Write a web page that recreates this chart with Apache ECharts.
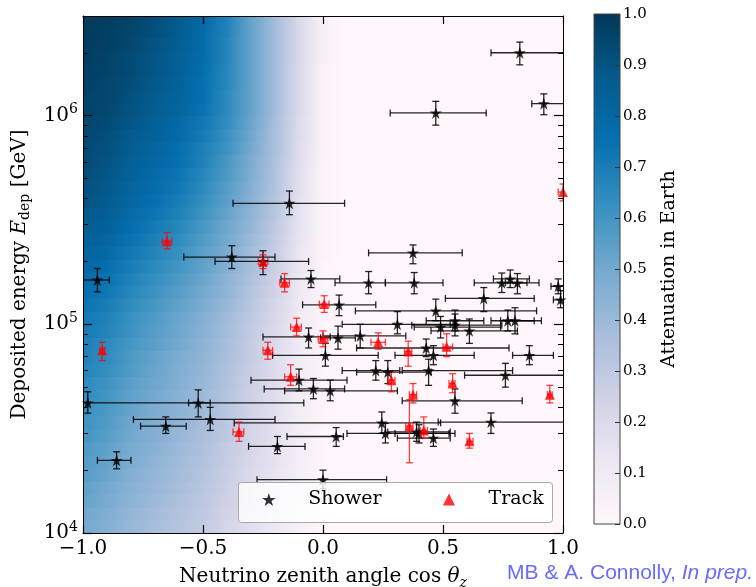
<!DOCTYPE html>
<html><head><meta charset="utf-8">
<script src="https://cdn.jsdelivr.net/npm/echarts@6/dist/echarts.min.js"></script>
<style>html,body{margin:0;padding:0;background:#fff}#c{width:756px;height:587px}</style>
</head><body><div id="c"></div><script>
// ---------------- data ----------------
// [cos, cosLo, cosHi, E, ELo, EHi]
const showers = [
 [0.82, 0.70, 1.05, 2.0e6, 1.75e6, 2.25e6],
 [0.47, 0.28, 0.68, 1.03e6, 9.0e5, 1.17e6],
 [0.92, 0.87, 1.05, 1.14e6, 1.01e6, 1.27e6],
 [-0.14, -0.375, 0.09, 3.8e5, 3.35e5, 4.35e5],
 [0.375, 0.19, 0.58, 2.2e5, 1.95e5, 2.4e5],
 [-0.38, -0.58, -0.20, 2.1e5, 1.85e5, 2.38e5],
 [-0.25, -0.45, -0.06, 2.0e5, 1.73e5, 2.25e5],
 [-0.94, -1.0, -0.89, 1.63e5, 1.43e5, 1.85e5],
 [-0.05, -0.175, 0.07, 1.65e5, 1.5e5, 1.81e5],
 [0.19, 0.05, 0.26, 1.58e5, 1.4e5, 1.79e5],
 [0.38, 0.26, 0.50, 1.58e5, 1.4e5, 1.77e5],
 [0.745, 0.63, 0.85, 1.58e5, 1.42e5, 1.76e5],
 [0.78, 0.71, 0.86, 1.65e5, 1.5e5, 1.82e5],
 [0.81, 0.76, 0.90, 1.58e5, 1.4e5, 1.75e5],
 [0.98, 0.95, 1.02, 1.52e5, 1.4e5, 1.65e5],
 [0.99, 0.96, 1.02, 1.31e5, 1.2e5, 1.45e5],
 [0.67, 0.51, 0.88, 1.33e5, 1.15e5, 1.5e5],
 [0.067, -0.085, 0.22, 1.24e5, 1.1e5, 1.38e5],
 [0.47, 0.135, 0.89, 1.16e5, 1.04e5, 1.32e5],
 [0.31, 0.08, 0.53, 1.0e5, 9.0e4, 1.15e5],
 [0.55, 0.43, 0.67, 1.04e5, 9.3e4, 1.17e5],
 [0.55, 0.37, 0.745, 9.9e4, 8.8e4, 1.12e5],
 [0.49, 0.38, 0.74, 9.7e4, 8.6e4, 1.09e5],
 [0.77, 0.70, 0.91, 1.04e5, 9.3e4, 1.17e5],
 [0.80, 0.74, 0.88, 1.04e5, 9.0e4, 1.2e5],
 [0.61, 0.45, 0.81, 9.3e4, 8.1e4, 1.06e5],
 [0.155, 0.0, 0.345, 8.8e4, 7.7e4, 1.0e5],
 [0.0625, -0.01, 0.135, 8.6e4, 7.6e4, 9.8e4],
 [-0.06, -0.25, 0.03, 8.7e4, 7.7e4, 9.6e4],
 [0.43, 0.14, 0.775, 7.7e4, 7.0e4, 8.5e4],
 [0.46, 0.30, 0.63, 7.1e4, 6.4e4, 7.9e4],
 [0.86, 0.79, 0.96, 7.1e4, 6.4e4, 7.9e4],
 [0.01, -0.21, 0.23, 7.1e4, 6.3e4, 8.1e4],
 [0.22, 0.08, 0.32, 6.0e4, 5.4e4, 6.7e4],
 [0.27, 0.14, 0.45, 5.9e4, 5.2e4, 6.7e4],
 [0.44, 0.33, 0.79, 6.0e4, 5.1e4, 6.8e4],
 [0.76, 0.59, 1.05, 5.7e4, 5.0e4, 6.5e4],
 [0.03, -0.16, 0.31, 4.8e4, 4.3e4, 5.4e4],
 [-0.04, -0.245, 0.09, 4.9e4, 4.4e4, 5.5e4],
 [-0.10, -0.30, 0.10, 5.4e4, 4.8e4, 6.1e4],
 [0.55, 0.33, 0.83, 4.3e4, 3.75e4, 4.9e4],
 [-0.98, -1.0, -0.08, 4.2e4, 3.75e4, 4.75e4],
 [-0.52, -0.56, -0.47, 4.2e4, 3.6e4, 4.85e4],
 [-0.47, -0.79, -0.20, 3.5e4, 3.1e4, 4.0e4],
 [-0.655, -0.76, -0.57, 3.25e4, 3.0e4, 3.6e4],
 [-0.19, -0.31, -0.075, 2.6e4, 2.4e4, 2.9e4],
 [-0.86, -0.94, -0.80, 2.23e4, 2.03e4, 2.45e4],
 [0.0, -0.275, 0.265, 1.8e4, 1.63e4, 2.0e4],
 [0.245, -0.37, 0.49, 3.37e4, 3.0e4, 3.8e4],
 [0.70, 0.48, 1.05, 3.4e4, 3.0e4, 3.76e4],
 [0.26, 0.10, 0.525, 3.0e4, 2.7e4, 3.35e4],
 [0.39, 0.27, 0.53, 3.05e4, 2.75e4, 3.4e4],
 [0.40, 0.30, 0.55, 3.0e4, 2.7e4, 3.3e4],
 [0.055, -0.15, 0.085, 2.9e4, 2.6e4, 3.2e4],
 [0.46, 0.31, 0.53, 2.85e4, 2.6e4, 3.15e4]
];
const tracks = [
 [1.0, 0.98, 1.02, 4.3e5, 3.9e5, 4.7e5],
 [-0.65, -0.67, -0.63, 2.5e5, 2.3e5, 2.75e5],
 [-0.25, -0.27, -0.23, 2.0e5, 1.85e5, 2.15e5],
 [-0.16, -0.18, -0.14, 1.58e5, 1.43e5, 1.75e5],
 [0.005, -0.015, 0.025, 1.25e5, 1.14e5, 1.37e5],
 [-0.11, -0.135, -0.09, 9.7e4, 8.8e4, 1.07e5],
 [0.0, -0.02, 0.02, 8.5e4, 7.8e4, 9.3e4],
 [-0.92, -0.93, -0.91, 7.5e4, 6.7e4, 8.2e4],
 [-0.23, -0.25, -0.21, 7.5e4, 6.8e4, 8.2e4],
 [0.23, 0.20, 0.26, 8.2e4, 7.6e4, 9.1e4],
 [0.355, 0.34, 0.37, 7.4e4, 6.3e4, 8.3e4],
 [0.515, 0.50, 0.54, 7.8e4, 7.0e4, 9.0e4],
 [-0.135, -0.16, -0.11, 5.6e4, 5.1e4, 6.4e4],
 [0.285, 0.27, 0.30, 5.4e4, 4.75e4, 5.9e4],
 [0.54, 0.525, 0.55, 5.2e4, 4.7e4, 5.8e4],
 [0.375, 0.36, 0.39, 4.6e4, 4.2e4, 5.2e4],
 [0.945, 0.935, 0.955, 4.6e4, 4.2e4, 5.1e4],
 [-0.35, -0.375, -0.33, 3.05e4, 2.75e4, 3.4e4],
 [0.36, 0.345, 0.375, 3.25e4, 2.17e4, 4.35e4],
 [0.42, 0.405, 0.435, 3.1e4, 2.85e4, 3.6e4],
 [0.61, 0.60, 0.625, 2.75e4, 2.55e4, 3.0e4]
];

// attenuation background: columns in cos, rows as log10(E) bands
const heatCos = [-1.0, -0.9, -0.8, -0.7, -0.6, -0.5, -0.4, -0.3, -0.2, -0.1, 0.0, 0.1];
const heatLogEdges = [4.0, 4.0625, 4.125, 4.1875, 4.25, 4.3125, 4.375, 4.4375, 4.5, 4.5625,
  4.625, 4.6875, 4.75, 4.8125, 4.875, 4.9375, 5.0, 5.0625, 5.125, 5.1875, 5.25, 5.3125,
  5.375, 5.4375, 5.5, 5.5625, 5.625, 5.6875, 5.75, 5.8125, 5.875, 5.9375, 6.0, 6.0625,
  6.125, 6.1875, 6.25, 6.3125, 6.375, 6.4375, 6.5];
const heatValues = [
 [.50,.46,.41,.37,.33,.29,.23,.17,.12,.06,.01,0],
 [.51,.47,.42,.38,.34,.30,.24,.18,.13,.06,.01,0],
 [.53,.49,.44,.40,.35,.31,.25,.19,.13,.07,.01,0],
 [.54,.50,.45,.41,.37,.32,.26,.19,.14,.07,.01,0],
 [.56,.52,.46,.42,.38,.33,.27,.20,.14,.07,.01,0],
 [.57,.53,.48,.43,.39,.34,.28,.21,.15,.07,.01,0],
 [.58,.54,.49,.45,.40,.35,.29,.22,.15,.07,.01,0],
 [.60,.56,.50,.46,.41,.36,.30,.23,.16,.08,.01,0],
 [.61,.57,.51,.47,.43,.37,.31,.23,.16,.08,.02,0],
 [.62,.58,.53,.48,.44,.39,.32,.24,.17,.08,.02,0],
 [.64,.60,.54,.50,.45,.40,.33,.25,.18,.08,.02,0],
 [.65,.61,.55,.51,.46,.41,.34,.26,.18,.09,.02,0],
 [.67,.63,.57,.52,.47,.42,.35,.27,.19,.09,.02,0],
 [.68,.64,.58,.53,.48,.43,.36,.28,.19,.09,.02,0],
 [.69,.65,.59,.55,.50,.44,.37,.28,.20,.10,.02,0],
 [.71,.67,.61,.56,.51,.45,.38,.29,.20,.10,.02,0],
 [.72,.68,.62,.57,.52,.46,.39,.30,.21,.10,.02,0],
 [.74,.70,.64,.59,.54,.48,.41,.32,.22,.11,.02,0],
 [.76,.72,.66,.61,.56,.50,.43,.33,.24,.11,.02,0],
 [.78,.74,.68,.63,.58,.52,.44,.35,.25,.12,.02,0],
 [.80,.76,.70,.65,.60,.54,.46,.37,.26,.13,.02,0],
 [.82,.79,.72,.67,.62,.55,.48,.38,.28,.13,.03,0],
 [.84,.81,.74,.69,.64,.57,.50,.40,.29,.14,.03,0],
 [.86,.83,.76,.71,.66,.59,.51,.42,.30,.15,.03,0],
 [.88,.85,.78,.73,.68,.61,.53,.43,.32,.15,.03,0],
 [.90,.87,.80,.75,.70,.63,.55,.45,.33,.16,.03,0],
 [.91,.88,.81,.77,.72,.65,.56,.46,.34,.17,.03,0],
 [.92,.89,.83,.78,.73,.66,.58,.47,.34,.17,.03,0],
 [.93,.90,.84,.80,.75,.68,.59,.48,.35,.18,.03,0],
 [.93,.91,.86,.81,.76,.69,.61,.50,.36,.18,.04,0],
 [.94,.92,.87,.83,.78,.71,.62,.51,.36,.19,.04,0],
 [.95,.93,.89,.84,.79,.72,.64,.52,.37,.19,.04,0],
 [.96,.94,.90,.86,.81,.74,.65,.53,.38,.20,.04,0],
 [.96,.95,.91,.87,.82,.75,.65,.53,.38,.20,.04,0],
 [.97,.95,.92,.88,.83,.75,.66,.53,.38,.20,.04,0],
 [.97,.96,.93,.89,.84,.76,.66,.53,.38,.20,.04,0],
 [.98,.96,.93,.89,.84,.77,.67,.53,.38,.21,.05,0],
 [.98,.97,.94,.90,.85,.78,.67,.53,.38,.21,.05,0],
 [.99,.97,.95,.91,.86,.78,.68,.53,.38,.21,.05,0],
 [.99,.98,.96,.92,.87,.79,.68,.53,.38,.21,.05,0]
];

const xTicks = [-1, -0.5, 0, 0.5, 1];
const yMajorTicks = [1e4, 1e5, 1e6];
const yMinorTicks = [2e4,3e4,4e4,5e4,6e4,7e4,8e4,9e4,2e5,3e5,4e5,5e5,6e5,7e5,8e5,9e5,2e6];
const yRange = [1e4, 3e6];
const cbRange = [0, 1];
const cbTicks = [0,0.1,0.2,0.3,0.4,0.5,0.6,0.7,0.8,0.9,1.0];

// ---------------- styling ----------------
const PuBu = ['#fff7fb','#ece7f2','#d0d1e6','#a6bddb','#74a9cf','#3690c0','#0570b0','#045a8d','#023858'];
const SERIF = 'DejaVu Serif';
function hexRgb(h){return [parseInt(h.substr(1,2),16),parseInt(h.substr(3,2),16),parseInt(h.substr(5,2),16)];}
function cmap(v){
  v = Math.max(0, Math.min(1, v));
  const n = PuBu.length - 1;
  const t = v * n; const i = Math.min(Math.floor(t), n - 1); const f = t - i;
  const a = hexRgb(PuBu[i]), b = hexRgb(PuBu[i+1]);
  return 'rgb(' + a.map((c,k)=>Math.round(c + (b[k]-c)*f)).join(',') + ')';
}
const STAR = 'path://M50 0 L61.23 34.55 L97.55 34.55 L68.16 55.9 L79.39 90.45 L50 69.1 L20.61 90.45 L31.84 55.9 L2.45 34.55 L38.77 34.55 Z';
const TRI = 'path://M10 0 L20 20 L0 20 Z';
const lg = v => Math.log10(v);
const yLogMin = lg(yRange[0]), yLogMax = lg(yRange[1]);

function errRender(color){
  return function(params, api){
    const x = api.value(0), xl = api.value(1), xh = api.value(2);
    const e = api.value(3), el = api.value(4), eh = api.value(5);
    const c = api.coord([x, e]), a = api.coord([xl, e]), b = api.coord([xh, e]);
    const lo = api.coord([x, el]), hi = api.coord([x, eh]);
    const cap = 3.5;
    const st = {stroke: color, lineWidth: 1.3, fill: null};
    const L = (x1,y1,x2,y2) => ({type:'line', shape:{x1,y1,x2,y2}, style: st});
    return {type:'group', children:[
      L(a[0], c[1], b[0], c[1]),
      L(a[0], c[1]-cap, a[0], c[1]+cap),
      L(b[0], c[1]-cap, b[0], c[1]+cap),
      L(c[0], hi[1], c[0], lo[1]),
      L(c[0]-cap, hi[1], c[0]+cap, hi[1]),
      L(c[0]-cap, lo[1], c[0]+cap, lo[1])
    ]};
  };
}

const heatData = heatValues.map((row, i) => [-1, 1, Math.pow(10, heatLogEdges[i]), Math.pow(10, heatLogEdges[i+1])].concat(row));

const chart = echarts.init(document.getElementById('c'), null, {renderer:'canvas'});
const tickFont = {fontFamily: SERIF, fontSize: 20, color: '#000'};
const noSplit = {show:false};

chart.setOption({
  animation: false,
  backgroundColor: '#fff',
  textStyle: {fontFamily: SERIF},
  grid: [
    {left: 83, top: 16, width: 480, height: 517, outerBoundsMode: 'none'},
    {left: 594, top: 14, width: 26, height: 510, outerBoundsMode: 'none'}
  ],
  xAxis: [
    {type:'value', gridIndex:0, min:-1, max:1, interval:0.5, position:'bottom', z:5,
     axisLine:{show:true, onZero:false, lineStyle:{color:'#000', width:1}},
     axisTick:{inside:true, length:8, lineStyle:{color:'#000', width:1.2}, customValues: xTicks},
     axisLabel:Object.assign({margin:6, customValues: xTicks, formatter: v => (v<0?'\u2212':'') + Math.abs(v).toFixed(1)}, tickFont),
     splitLine: noSplit,
     name:'Neutrino zenith angle cos {i|θ}{s|z}', nameLocation:'middle', nameGap:28,
     nameTextStyle:{fontFamily:SERIF, fontSize:20, lineHeight:26, color:'#000',
       rich:{i:{fontFamily:SERIF, fontStyle:'italic', fontSize:20, lineHeight:26, color:'#000'},
             s:{fontFamily:SERIF, fontStyle:'italic', fontSize:14, lineHeight:14, verticalAlign:'bottom', color:'#000'}}}},
    {type:'value', gridIndex:0, min:-1, max:1, interval:0.5, position:'top', z:5,
     axisLine:{show:true, onZero:false, lineStyle:{color:'#000', width:1}},
     axisTick:{inside:true, length:8, lineStyle:{color:'#000', width:1.2}, customValues: xTicks},
     axisLabel:{show:false}, splitLine: noSplit},
    {type:'value', gridIndex:1, min:0, max:1, show:false}
  ],
  yAxis: [
    {type:'log', gridIndex:0, min:yRange[0], max:yRange[1], position:'left', z:5,
     axisLine:{show:true, onZero:false, lineStyle:{color:'#000', width:1}},
     axisTick:{show:false}, axisLabel:{show:false}, splitLine: noSplit},
    {type:'value', gridIndex:0, min:yLogMin, max:yLogMax, position:'left', z:5,
     axisLine:{show:false, onZero:false},
     axisTick:{inside:true, length:9, lineStyle:{color:'#000', width:1.2}, customValues: yMajorTicks.map(lg)},
     axisLabel:{margin:5, customValues: yMajorTicks.map(lg), fontFamily:SERIF, fontSize:20, lineHeight:26, color:'#000',
       formatter: v => '10{sup|' + Math.round(v) + '}',
       rich:{sup:{fontFamily:SERIF, fontSize:14, lineHeight:14, verticalAlign:'top', color:'#000'}}},
     splitLine: noSplit,
     name:'Deposited energy {i|E}{s|dep} [GeV]', nameLocation:'middle', nameGap:45, nameRotate:90,
     nameTextStyle:{fontFamily:SERIF, fontSize:20, lineHeight:26, color:'#000',
       rich:{i:{fontFamily:SERIF, fontStyle:'italic', fontSize:20, lineHeight:26, color:'#000'},
             s:{fontFamily:SERIF, fontSize:14, lineHeight:14, verticalAlign:'bottom', color:'#000'}}}},
    {type:'value', gridIndex:0, min:yLogMin, max:yLogMax, position:'left', z:5,
     axisLine:{show:false, onZero:false},
     axisTick:{inside:true, length:5, lineStyle:{color:'#000', width:1}, customValues: yMinorTicks.map(lg)},
     axisLabel:{show:false}, splitLine: noSplit},
    {type:'value', gridIndex:0, min:yLogMin, max:yLogMax, position:'right', z:5,
     axisLine:{show:true, onZero:false, lineStyle:{color:'#000', width:1}},
     axisTick:{inside:true, length:9, lineStyle:{color:'#000', width:1.2}, customValues: yMajorTicks.map(lg)},
     axisLabel:{show:false}, splitLine: noSplit},
    {type:'value', gridIndex:0, min:yLogMin, max:yLogMax, position:'right', z:5,
     axisLine:{show:false, onZero:false},
     axisTick:{inside:true, length:5, lineStyle:{color:'#000', width:1}, customValues: yMinorTicks.map(lg)},
     axisLabel:{show:false}, splitLine: noSplit},
    {type:'value', gridIndex:1, min:cbRange[0], max:cbRange[1], interval:0.1, position:'right', z:5,
     axisLine:{show:false, onZero:false},
     axisTick:{inside:true, length:5, lineStyle:{color:'#333', width:1}, customValues: cbTicks},
     axisLabel:{margin:3, customValues: cbTicks, fontFamily:SERIF, fontSize:15, color:'#000', formatter: v => v.toFixed(1)},
     splitLine: noSplit,
     name:'Attenuation in Earth', nameLocation:'middle', nameGap:40, nameRotate:90,
     nameTextStyle:{fontFamily:SERIF, fontSize:19, color:'#000'}}
  ],
  legend: [
    {data:[{name:'Shower', icon: STAR}], left: 262, top: 490, itemWidth: 69, itemHeight: 13, padding: 0,
     selectedMode:false, z: 12, textStyle:{fontFamily:SERIF, fontSize:19, color:'#000'}},
    {data:[{name:'Track', icon: TRI}], left: 443, top: 490, itemWidth: 69, itemHeight: 12, padding: 0,
     selectedMode:false, z: 12, textStyle:{fontFamily:SERIF, fontSize:19, color:'#000'}}
  ],
  graphic: [
    {type:'rect', left:238, top:482, z:10, shape:{width:314, height:40, r:3},
     style:{fill:'rgba(255,255,255,0.8)', stroke:'#a8a8a8', lineWidth:1}},
    {type:'text', right:3, bottom:3, z:10,
     style:{text:'MB & A. Connolly, {i|In prep.}', fontFamily:'Liberation Sans', fontSize:21, fill:'#6a6aff',
       rich:{i:{fontFamily:'Liberation Sans', fontStyle:'italic', fontSize:21, fill:'#6a6aff'}}}}
  ],
  series: [
    {type:'custom', name:'attenuation', xAxisIndex:0, yAxisIndex:0, z:1, clip:true, silent:true,
     encode:{x:[0,1], y:[2,3]}, data: heatData,
     renderItem: function(params, api){
       const pA = api.coord([api.value(0), api.value(3)]);
       const pB = api.coord([api.value(1), api.value(2)]);
       const stops = heatCos.map((c, j) => ({offset:(c+1)/2, color: cmap(api.value(4+j))}));
       stops.push({offset:1, color: cmap(0)});
       return {type:'rect', shape:{x:pA[0], y:pA[1]-0.6, width:pB[0]-pA[0], height:pB[1]-pA[1]+1.2},
               style:{fill: new echarts.graphic.LinearGradient(0,0,1,0,stops)}};
     }},
    {type:'custom', name:'Shower errors', xAxisIndex:0, yAxisIndex:0, z:3, clip:true, silent:true,
     encode:{x:[0,1,2], y:[3,4,5]}, data: showers, renderItem: errRender('rgba(0,0,0,0.85)')},
    {type:'custom', name:'Track errors', xAxisIndex:0, yAxisIndex:0, z:3, clip:true, silent:true,
     encode:{x:[0,1,2], y:[3,4,5]}, data: tracks, renderItem: errRender('rgba(255,0,0,0.75)')},
    {type:'scatter', name:'Shower', xAxisIndex:0, yAxisIndex:0, z:4, symbol: STAR, symbolSize: 12,
     itemStyle:{color:'#000'}, data: showers.map(s => [s[0], s[3]])},
    {type:'scatter', name:'Track', xAxisIndex:0, yAxisIndex:0, z:4, symbol: TRI, symbolSize: 10,
     itemStyle:{color:'#ff0000'}, data: tracks.map(s => [s[0], s[3]])},
    {type:'custom', name:'colorbar', xAxisIndex:2, yAxisIndex:5, z:1, silent:true,
     encode:{x:0, y:1}, data:[[cbRange[0], cbRange[0]], [cbRange[1], cbRange[1]]],
     renderItem: function(params, api){
       if (params.dataIndex !== 0) return null;
       const pA = api.coord([cbRange[0], cbRange[1]]);
       const pB = api.coord([cbRange[1], cbRange[0]]);
       const stops = PuBu.map((c, i) => ({offset: i/(PuBu.length-1), color: c}));
       return {type:'rect', shape:{x:pA[0], y:pA[1], width:pB[0]-pA[0], height:pB[1]-pA[1]},
               style:{fill: new echarts.graphic.LinearGradient(0,1,0,0,stops), stroke:'#444', lineWidth:1}};
     }}
  ]
});
</script></body></html>
